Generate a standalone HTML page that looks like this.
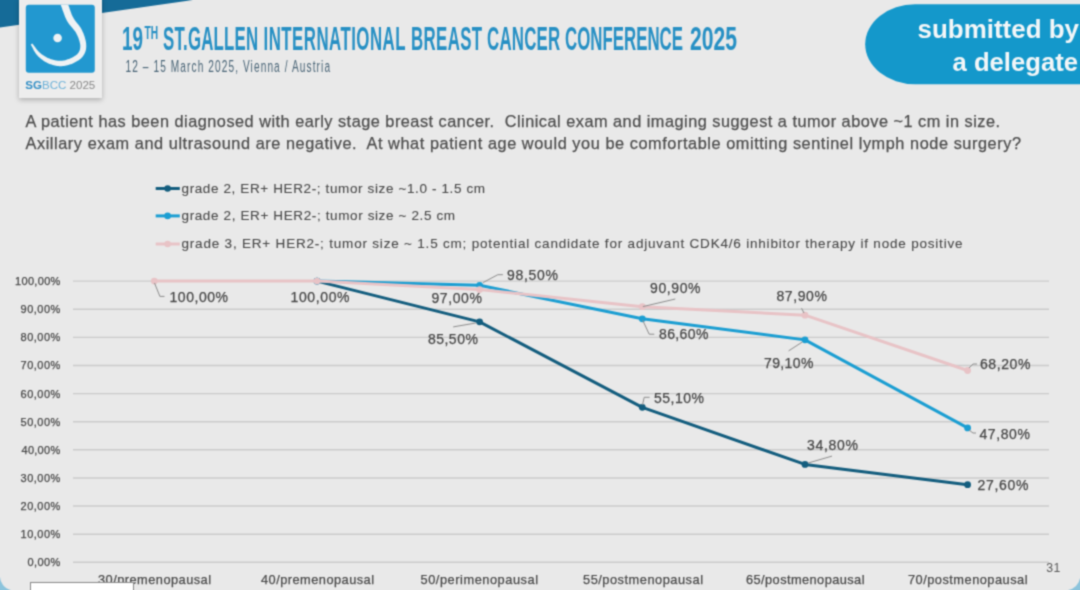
<!DOCTYPE html>
<html><head><meta charset="utf-8">
<style>
html,body{margin:0;padding:0;}
body{width:1080px;height:590px;overflow:hidden;position:relative;background:#e9e9e9;font-family:"Liberation Sans",sans-serif;}
.abs{position:absolute;white-space:nowrap;}
svg{position:absolute;left:0;top:0;}
svg text{font-family:"Liberation Sans",sans-serif;white-space:pre;}
.tt{font-size:32.4px;font-weight:bold;fill:#2790c4;}
.tts{font-size:18.2px;font-weight:bold;fill:#2790c4;}
.sub{font-size:16.9px;fill:#4a6577;}
.pill{font-size:25.3px;font-weight:bold;fill:#f2f6f8;}
.q{font-size:16.3px;fill:#4e4e4e;stroke:#4e4e4e;stroke-width:0.25px;}
.leg{font-size:13.5px;fill:#4a4a4a;stroke:#4a4a4a;stroke-width:0.1px;}
.dl{font-size:14px;fill:#474747;stroke:#474747;stroke-width:0.25px;}
.yl{font-size:11px;fill:#484848;stroke:#484848;stroke-width:0.25px;}
.xl{font-size:12.8px;fill:#4a4a4a;stroke:#4a4a4a;stroke-width:0.25px;}
.pg{font-size:12.3px;fill:#5a5a5a;}
</style></head><body><svg width="0" height="0" style="position:absolute"><defs><filter id="soft" x="0" y="0" width="1080" height="590" filterUnits="userSpaceOnUse" color-interpolation-filters="sRGB"><feConvolveMatrix order="3" kernelMatrix="0.04 0.12 0.04 0.12 0.36 0.12 0.04 0.12 0.04" edgeMode="duplicate"/></filter></defs></svg><div id="wrap" style="position:absolute;left:0;top:0;width:1080px;height:590px;background:#e9e9e9;filter:url(#soft);">
<svg width="1080" height="590">
<polygon points="0,0 193,0 0,27.5" fill="#156b98"/>
<rect x="865.2" y="4.2" width="300" height="80" rx="50" ry="40" fill="#1498cb"/>
<line x1="73" y1="562.3" x2="1049" y2="562.3" stroke="#cbcbcb" stroke-width="1.4"/>
<line x1="73" y1="534.18" x2="1049" y2="534.18" stroke="#cbcbcb" stroke-width="1.4"/>
<line x1="73" y1="506.06" x2="1049" y2="506.06" stroke="#cbcbcb" stroke-width="1.4"/>
<line x1="73" y1="477.94" x2="1049" y2="477.94" stroke="#cbcbcb" stroke-width="1.4"/>
<line x1="73" y1="449.82" x2="1049" y2="449.82" stroke="#cbcbcb" stroke-width="1.4"/>
<line x1="73" y1="421.7" x2="1049" y2="421.7" stroke="#cbcbcb" stroke-width="1.4"/>
<line x1="73" y1="393.58" x2="1049" y2="393.58" stroke="#cbcbcb" stroke-width="1.4"/>
<line x1="73" y1="365.46" x2="1049" y2="365.46" stroke="#cbcbcb" stroke-width="1.4"/>
<line x1="73" y1="337.34" x2="1049" y2="337.34" stroke="#cbcbcb" stroke-width="1.4"/>
<line x1="73" y1="309.22" x2="1049" y2="309.22" stroke="#cbcbcb" stroke-width="1.4"/>
<line x1="73" y1="281.1" x2="1049" y2="281.1" stroke="#cbcbcb" stroke-width="1.4"/>
<polyline points="317.0,281.1 479.6,321.87 642.3,407.36 805.0,464.44 967.6,484.69" fill="none" stroke="#135d7e" stroke-width="3" stroke-linejoin="round"/>
<circle cx="317.0" cy="281.1" r="3.4" fill="#135d7e"/>
<circle cx="479.6" cy="321.87" r="3.4" fill="#135d7e"/>
<circle cx="642.3" cy="407.36" r="3.4" fill="#135d7e"/>
<circle cx="805.0" cy="464.44" r="3.4" fill="#135d7e"/>
<circle cx="967.6" cy="484.69" r="3.4" fill="#135d7e"/>
<polyline points="317.0,281.1 479.6,285.32 642.3,318.78 805.0,339.87 967.6,427.89" fill="none" stroke="#1b9ed2" stroke-width="3" stroke-linejoin="round"/>
<circle cx="317.0" cy="281.1" r="3.4" fill="#1b9ed2"/>
<circle cx="479.6" cy="285.32" r="3.4" fill="#1b9ed2"/>
<circle cx="642.3" cy="318.78" r="3.4" fill="#1b9ed2"/>
<circle cx="805.0" cy="339.87" r="3.4" fill="#1b9ed2"/>
<circle cx="967.6" cy="427.89" r="3.4" fill="#1b9ed2"/>
<polyline points="154.3,281.1 317.0,281.1 479.6,289.54 642.3,306.69 805.0,315.13 967.6,370.52" fill="none" stroke="#e8c3c6" stroke-width="3" stroke-linejoin="round"/>
<circle cx="154.3" cy="281.1" r="3.4" fill="#e8c3c6"/>
<circle cx="317.0" cy="281.1" r="3.4" fill="#e8c3c6"/>
<circle cx="479.6" cy="289.54" r="3.4" fill="#e8c3c6"/>
<circle cx="642.3" cy="306.69" r="3.4" fill="#e8c3c6"/>
<circle cx="805.0" cy="315.13" r="3.4" fill="#e8c3c6"/>
<circle cx="967.6" cy="370.52" r="3.4" fill="#e8c3c6"/>
<polyline points="154.5,283 159.9,296.4 164.5,296.4" fill="none" stroke="#8c8c8c" stroke-width="1"/>
<polyline points="483,282.6 497.8,274.7 502.9,274.7" fill="none" stroke="#8c8c8c" stroke-width="1"/>
<polyline points="453.2,326.9 475.8,323" fill="none" stroke="#8c8c8c" stroke-width="1"/>
<polyline points="642.9,306.6 675.3,299" fill="none" stroke="#8c8c8c" stroke-width="1"/>
<polyline points="642.6,320 649.2,334.2 654.3,334.2" fill="none" stroke="#8c8c8c" stroke-width="1"/>
<polyline points="642.5,405 644.2,397.3 649.6,397.3" fill="none" stroke="#8c8c8c" stroke-width="1"/>
<polyline points="801.5,308.2 804,313" fill="none" stroke="#8c8c8c" stroke-width="1"/>
<polyline points="788.6,350.9 802.3,342" fill="none" stroke="#8c8c8c" stroke-width="1"/>
<polyline points="808.2,463 832,456.1" fill="none" stroke="#8c8c8c" stroke-width="1"/>
<polyline points="969,368 973,364 977,364" fill="none" stroke="#8c8c8c" stroke-width="1"/>
<polyline points="969,430 973,433 976,433" fill="none" stroke="#8c8c8c" stroke-width="1"/>
<line x1="155.7" y1="188.5" x2="179.8" y2="188.5" stroke="#135d7e" stroke-width="3"/><circle cx="167.6" cy="188.5" r="3.3" fill="#135d7e"/>
<line x1="155.7" y1="215.9" x2="179.8" y2="215.9" stroke="#1b9ed2" stroke-width="3"/><circle cx="167.6" cy="215.9" r="3.3" fill="#1b9ed2"/>
<line x1="155.7" y1="244" x2="179.8" y2="244" stroke="#e8c3c6" stroke-width="3"/><circle cx="167.6" cy="244" r="3.3" fill="#e8c3c6"/>
<text class="tt" x="122.00" y="49.6" textLength="21.07" lengthAdjust="spacingAndGlyphs">19</text>
<text class="tt" transform="scale(0.52,1)" x="313.46" y="49.6" textLength="182.88" lengthAdjust="spacing">ST.GALLEN</text>
<text class="tt" transform="scale(0.52,1)" x="506.73" y="49.6" textLength="273.14" lengthAdjust="spacing">INTERNATIONAL</text>
<text class="tt" transform="scale(0.52,1)" x="790.38" y="49.6" textLength="136.62" lengthAdjust="spacing">BREAST</text>
<text class="tt" transform="scale(0.52,1)" x="936.54" y="49.6" textLength="140.69" lengthAdjust="spacing">CANCER</text>
<text class="tt" transform="scale(0.52,1)" x="1086.54" y="49.6" textLength="226.97" lengthAdjust="spacing">CONFERENCE</text>
<text class="tt" x="690.00" y="49.6" textLength="47.01" lengthAdjust="spacingAndGlyphs">2025</text>
<text class="tts" x="144.50" y="39.3" textLength="13.54" lengthAdjust="spacingAndGlyphs">TH</text>
<text class="sub" transform="scale(0.6,1)" x="209.17" y="72" textLength="340.86" lengthAdjust="spacing">12 – 15 March 2025, Vienna / Austria</text>
<text class="pill" x="917.50" y="38.3" textLength="161.50" lengthAdjust="spacingAndGlyphs">submitted by</text>
<text class="pill" x="952.50" y="70.8" textLength="125.50" lengthAdjust="spacingAndGlyphs">a delegate</text>
<text class="q" x="25.50" y="127.3" textLength="974.50" lengthAdjust="spacing">A patient has been diagnosed with early stage breast cancer.&#160; Clinical exam and imaging suggest a tumor above ~1 cm in size.</text>
<text class="q" x="25.50" y="148.7" textLength="995.50" lengthAdjust="spacing">Axillary exam and ultrasound are negative.&#160; At what patient age would you be comfortable omitting sentinel lymph node surgery?</text>
<text class="dl" x="169.50" y="301.5" textLength="58.53" lengthAdjust="spacing">100,00%</text>
<text class="dl" x="290.50" y="302.4" textLength="59.03" lengthAdjust="spacing">100,00%</text>
<text class="dl" x="507.00" y="279.8" textLength="51.00" lengthAdjust="spacing">98,50%</text>
<text class="dl" x="431.50" y="302.8" textLength="50.38" lengthAdjust="spacing">97,00%</text>
<text class="dl" x="428.00" y="343.5" textLength="49.84" lengthAdjust="spacing">85,50%</text>
<text class="dl" x="650.00" y="292.6" textLength="50.50" lengthAdjust="spacing">90,90%</text>
<text class="dl" x="659.00" y="338.6" textLength="49.38" lengthAdjust="spacing">86,60%</text>
<text class="dl" x="654.00" y="402.5" textLength="49.96" lengthAdjust="spacing">55,10%</text>
<text class="dl" x="776.50" y="301.3" textLength="50.42" lengthAdjust="spacing">87,90%</text>
<text class="dl" x="764.00" y="367.8" textLength="49.42" lengthAdjust="spacing">79,10%</text>
<text class="dl" x="807.00" y="449.5" textLength="51.04" lengthAdjust="spacing">34,80%</text>
<text class="dl" x="980.00" y="369.1" textLength="50.42" lengthAdjust="spacing">68,20%</text>
<text class="dl" x="979.50" y="439" textLength="50.42" lengthAdjust="spacing">47,80%</text>
<text class="dl" x="977.50" y="490" textLength="50.92" lengthAdjust="spacing">27,60%</text>
<text class="yl" x="27.50" y="566.2" textLength="32.70" lengthAdjust="spacing">0,00%</text>
<text class="yl" x="20.50" y="538.1" textLength="39.88" lengthAdjust="spacing">10,00%</text>
<text class="yl" x="20.50" y="510.0" textLength="39.88" lengthAdjust="spacing">20,00%</text>
<text class="yl" x="20.50" y="481.8" textLength="39.88" lengthAdjust="spacing">30,00%</text>
<text class="yl" x="21.50" y="453.7" textLength="38.68" lengthAdjust="spacing">40,00%</text>
<text class="yl" x="20.50" y="425.6" textLength="39.88" lengthAdjust="spacing">50,00%</text>
<text class="yl" x="20.50" y="397.5" textLength="39.88" lengthAdjust="spacing">60,00%</text>
<text class="yl" x="20.50" y="369.4" textLength="39.88" lengthAdjust="spacing">70,00%</text>
<text class="yl" x="20.50" y="341.2" textLength="39.88" lengthAdjust="spacing">80,00%</text>
<text class="yl" x="20.50" y="313.1" textLength="39.88" lengthAdjust="spacing">90,00%</text>
<text class="yl" x="15.00" y="285.0" textLength="45.37" lengthAdjust="spacing">100,00%</text>
<text class="xl" x="98.00" y="583.9" textLength="113.03" lengthAdjust="spacing">30/premenopausal</text>
<text class="xl" x="261.00" y="583.9" textLength="113.03" lengthAdjust="spacing">40/premenopausal</text>
<text class="xl" x="420.50" y="583.9" textLength="117.55" lengthAdjust="spacing">50/perimenopausal</text>
<text class="xl" x="583.00" y="583.9" textLength="119.99" lengthAdjust="spacing">55/postmenopausal</text>
<text class="xl" x="746.00" y="583.9" textLength="118.47" lengthAdjust="spacing">65/postmenopausal</text>
<text class="xl" x="908.00" y="583.9" textLength="119.47" lengthAdjust="spacing">70/postmenopausal</text>
<text class="leg" x="181.50" y="193.1" textLength="303.50" lengthAdjust="spacing">grade 2, ER+ HER2-; tumor size ~1.0 - 1.5 cm</text>
<text class="leg" x="181.50" y="220.4" textLength="273.51" lengthAdjust="spacing">grade 2, ER+ HER2-; tumor size ~ 2.5 cm</text>
<text class="leg" x="181.50" y="248.1" textLength="781.00" lengthAdjust="spacing">grade 3, ER+ HER2-; tumor size ~ 1.5 cm; potential candidate for adjuvant CDK4/6 inhibitor therapy if node positive</text>
<text class="pg" x="1046.3" y="572.3">3</text><text class="pg" x="1053.6" y="572.3">1</text>

</svg>
<div class="abs" style="left:19px;top:-2px;width:83px;height:99.5px;background:#ededed;box-shadow:0px 2px 5px rgba(0,0,0,0.25);"></div>
<svg width="1080" height="590" style="pointer-events:none">
<defs><clipPath id="lc"><rect x="25.8" y="4.7" width="69" height="68.1" rx="3"/></clipPath></defs>
<rect x="25.8" y="4.7" width="69" height="68.1" rx="3" fill="#2298d0"/>
<g clip-path="url(#lc)"><path d="M60.6,4.8 L61.1,6.0 L61.6,7.3 L62.1,8.6 L62.5,9.9 L63.0,11.3 L63.5,12.6 L64.0,14.0 L64.5,15.3 L65.0,16.7 L65.6,18.0 L66.2,19.3 L66.9,20.7 L67.7,22.0 L68.5,23.2 L69.4,24.4 L70.3,25.5 L71.1,26.5 L72.0,27.6 L72.8,28.5 L73.6,29.5 L74.4,30.4 L75.0,31.3 L75.6,32.1 L76.1,33.0 L76.6,34.0 L77.1,35.0 L77.6,36.0 L78.0,37.1 L78.5,38.1 L78.8,39.2 L79.2,40.2 L79.5,41.2 L79.7,42.2 L79.9,43.1 L80.1,44.0 L80.2,44.8 L80.3,45.5 L80.3,46.3 L80.3,47.0 L80.2,47.7 L80.1,48.4 L80.0,49.0 L79.9,49.6 L79.7,50.2 L79.5,50.7 L79.2,51.3 L78.9,51.9 L78.6,52.4 L78.2,52.9 L77.8,53.4 L77.4,53.9 L76.9,54.4 L76.3,54.9 L75.7,55.4 L75.0,55.8 L74.3,56.3 L73.6,56.7 L72.9,57.2 L72.1,57.6 L71.3,58.0 L70.5,58.3 L69.7,58.7 L68.8,59.0 L67.9,59.3 L67.0,59.6 L66.0,59.9 L65.1,60.2 L64.1,60.4 L63.2,60.5 L62.2,60.7 L61.3,60.8 L60.5,60.8 L59.6,60.8 L58.7,60.8 L57.8,60.7 L56.8,60.6 L55.9,60.5 L55.0,60.3 L54.0,60.1 L53.1,59.8 L52.1,59.6 L51.2,59.3 L50.3,58.9 L49.5,58.6 L48.6,58.3 L47.7,57.9 L46.9,57.5 L46.1,57.0 L45.2,56.6 L44.4,56.1 L43.6,55.6 L42.8,55.0 L42.0,54.5 L41.3,53.9 L40.5,53.3 L39.8,52.7 L39.2,52.1 L38.5,51.4 L37.9,50.7 L37.2,50.0 L36.6,49.2 L36.0,48.4 L35.4,47.6 L34.8,46.8 L34.2,46.0 L33.5,45.1 L32.9,44.3 L32.2,43.5 L30.8,44.5 L31.3,45.4 L31.7,46.3 L32.2,47.2 L32.7,48.1 L33.1,49.0 L33.6,50.0 L34.1,50.9 L34.7,51.8 L35.2,52.7 L35.8,53.6 L36.5,54.5 L37.2,55.3 L37.9,56.1 L38.7,56.9 L39.5,57.6 L40.3,58.3 L41.1,59.0 L42.0,59.6 L42.9,60.3 L43.8,60.9 L44.7,61.5 L45.6,62.0 L46.6,62.5 L47.5,63.0 L48.5,63.4 L49.5,63.9 L50.6,64.2 L51.6,64.6 L52.7,64.9 L53.8,65.2 L54.9,65.5 L56.0,65.7 L57.1,65.9 L58.3,66.1 L59.4,66.2 L60.5,66.2 L61.7,66.2 L62.8,66.1 L64.0,65.9 L65.1,65.7 L66.3,65.5 L67.4,65.2 L68.5,64.9 L69.6,64.6 L70.7,64.2 L71.7,63.9 L72.7,63.5 L73.7,63.0 L74.6,62.6 L75.5,62.1 L76.4,61.6 L77.3,61.1 L78.2,60.5 L79.1,59.9 L79.9,59.3 L80.7,58.7 L81.4,58.0 L82.1,57.2 L82.8,56.4 L83.4,55.6 L83.9,54.8 L84.4,54.0 L84.8,53.1 L85.2,52.2 L85.5,51.3 L85.8,50.3 L86.0,49.4 L86.1,48.4 L86.2,47.4 L86.3,46.3 L86.2,45.3 L86.2,44.2 L86.1,43.1 L85.9,42.0 L85.7,40.8 L85.4,39.6 L85.1,38.4 L84.8,37.2 L84.4,36.0 L83.9,34.8 L83.5,33.6 L83.0,32.4 L82.4,31.2 L81.9,30.0 L81.2,28.8 L80.5,27.6 L79.7,26.4 L78.9,25.3 L78.0,24.3 L77.2,23.3 L76.4,22.3 L75.6,21.3 L74.9,20.3 L74.2,19.3 L73.6,18.3 L73.1,17.3 L72.5,16.3 L72.0,15.2 L71.5,14.0 L71.1,12.8 L70.6,11.5 L70.2,10.2 L69.7,8.9 L69.3,7.6 L68.8,6.3 L68.3,4.9 L67.9,3.6 L67.4,2.2 Z" fill="#eef2f4"/><circle cx="57.6" cy="38" r="4.3" fill="#eef2f4"/></g>
<text x="25.3" y="89" textLength="70" lengthAdjust="spacingAndGlyphs" style="font-size:11.6px"><tspan style="font-weight:bold;fill:#3590c6">SG</tspan><tspan style="fill:#6cb1d8">BCC</tspan><tspan style="fill:#8a8a8a"> 2025</tspan></text>
</svg>
<div class="abs" style="left:30px;top:582px;width:102px;height:20px;background:#fff;border:1.5px solid #8a8a8a;"></div>
<svg width="1080" height="590" style="pointer-events:none">
<path d="M0,576 A14,14 0 0 0 11,590 L0,590 Z" fill="#8cc4dc"/>
<path d="M1080,578 A14,14 0 0 1 1068,590 L1080,590 Z" fill="#8cc4dc"/>
</svg>
</div></body></html>
